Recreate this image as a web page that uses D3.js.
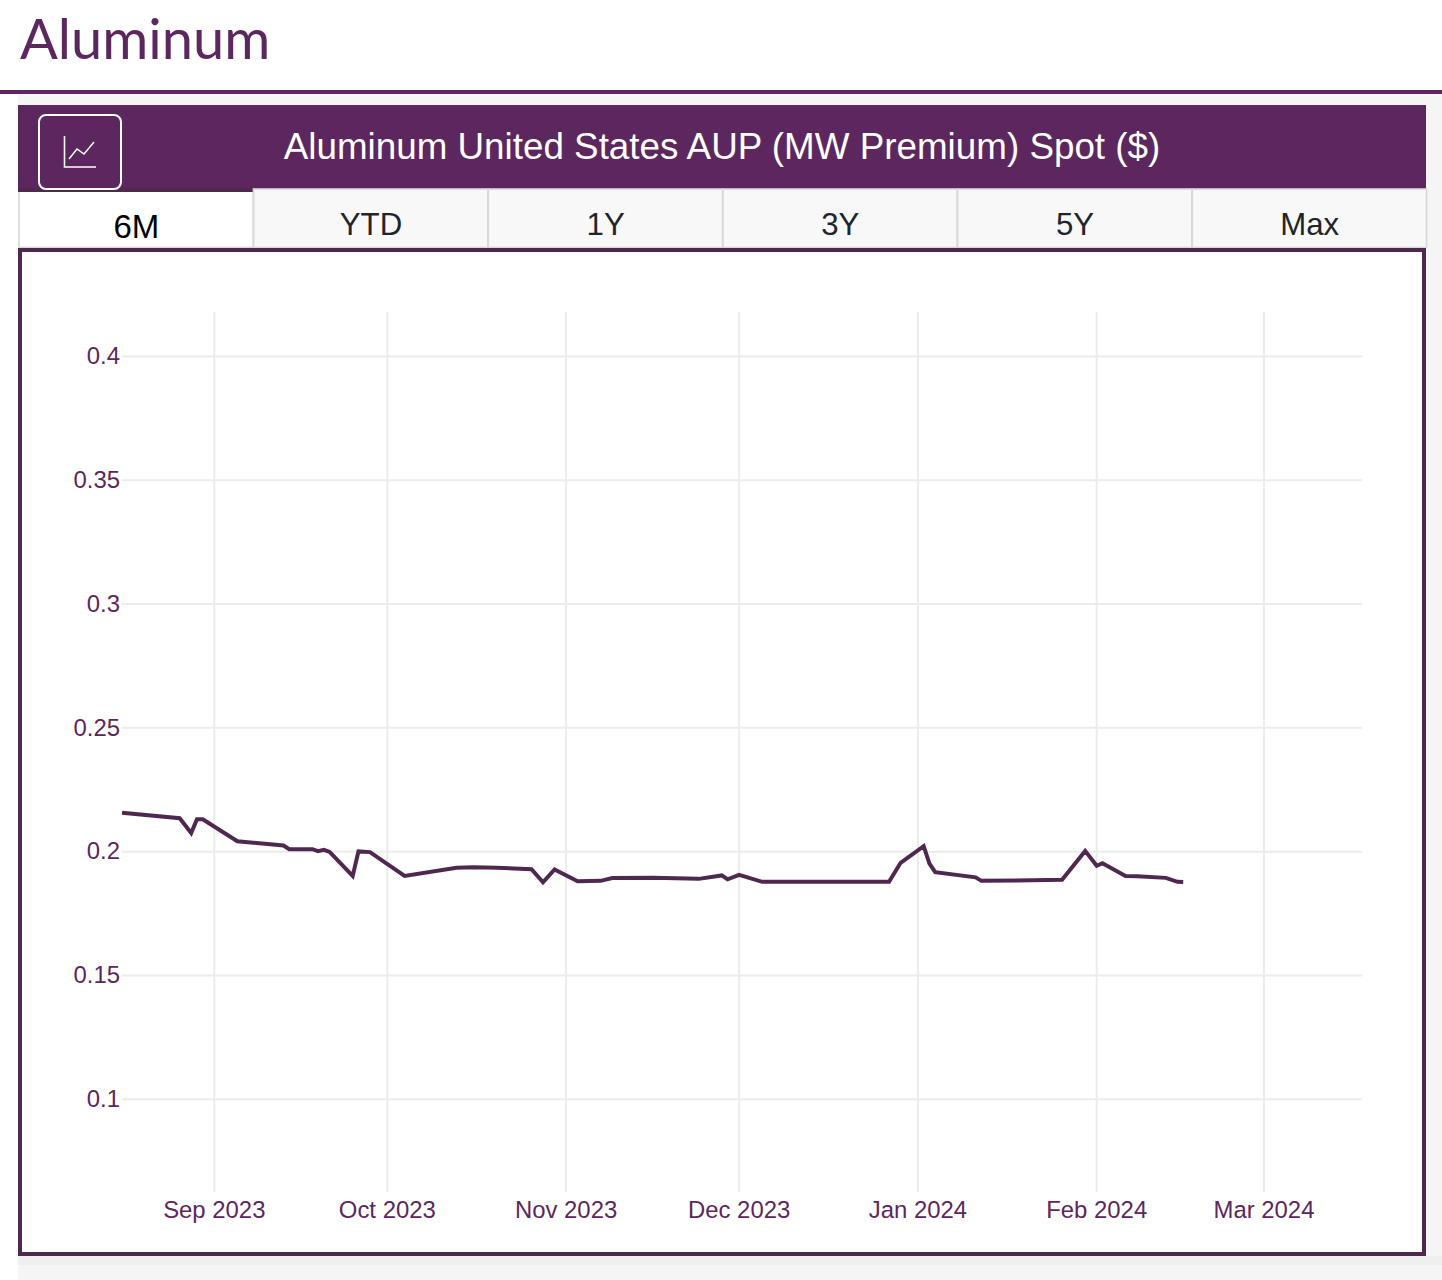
<!DOCTYPE html>
<html>
<head>
<meta charset="utf-8">
<title>Aluminum</title>
<script src="https://cdn.jsdelivr.net/npm/d3@7"></script>
<style>
  html, body { margin: 0; padding: 0; background: #fff; }
  svg { display: block; }
  text { font-family: "Liberation Sans", Arial, sans-serif; }
</style>
</head>
<body>
<div id="chart"></div>
<script>
var pageTitle = "Aluminum";
var chartTitle = "Aluminum United States AUP (MW Premium) Spot ($)";
var tabLabels = ["6M", "YTD", "1Y", "3Y", "5Y", "Max"];

var dates = [
  "2023-08-16", "2023-08-26", "2023-08-28", "2023-08-29", "2023-08-30", "2023-09-05",
  "2023-09-13", "2023-09-14", "2023-09-18", "2023-09-19", "2023-09-20", "2023-09-21",
  "2023-09-25", "2023-09-26", "2023-09-28", "2023-10-04", "2023-10-13", "2023-10-16",
  "2023-10-20", "2023-10-26", "2023-10-28", "2023-10-30", "2023-11-03", "2023-11-07",
  "2023-11-09", "2023-11-16", "2023-11-24", "2023-11-28", "2023-11-29", "2023-12-01",
  "2023-12-05", "2023-12-27", "2023-12-29", "2024-01-02", "2024-01-03", "2024-01-04",
  "2024-01-11", "2024-01-12", "2024-01-26", "2024-01-30", "2024-02-01", "2024-02-02",
  "2024-02-06", "2024-02-08", "2024-02-13", "2024-02-15", "2024-02-16"
];
var prices = [
  0.2155, 0.2133, 0.2073, 0.2129, 0.2129, 0.2040,
  0.2023, 0.2008, 0.2008, 0.2000, 0.2005, 0.1997,
  0.1900, 0.1999, 0.1996, 0.1900, 0.1933, 0.1935,
  0.1933, 0.1927, 0.1874, 0.1926, 0.1878, 0.1880,
  0.1891, 0.1892, 0.1888, 0.1902, 0.1886, 0.1904,
  0.1876, 0.1876, 0.1953, 0.2020, 0.1950, 0.1915,
  0.1894, 0.1880, 0.1884, 0.2001, 0.1941, 0.1951,
  0.1900, 0.1899, 0.1892, 0.1876, 0.1875
];
var xTicks = ["2023-09-01", "2023-10-01", "2023-11-01", "2023-12-01", "2024-01-01", "2024-02-01", "2024-03-01"];
var yTicks = [0.1, 0.15, 0.2, 0.25, 0.3, 0.35, 0.4];
var xDomain = ["2023-08-16", "2024-03-18"];
var yDomain = [0.0623, 0.4178];

var PURPLE = "#5c275e";
var DARK = "#4f2850";

var parseDate = d3.utcParse("%Y-%m-%d");
var points = dates.map(function(d, i) {
  return { date: parseDate(d), price: prices[i] };
});

var svg = d3.select("#chart").append("svg")
  .attr("width", 1442)
  .attr("height", 1280);

// Page furniture
svg.append("rect").attr("x", 18).attr("y", 94).attr("width", 1424).attr("height", 1186).attr("fill", "#f5f5f5");
svg.append("rect").attr("x", 0).attr("y", 90).attr("width", 1442).attr("height", 4).attr("fill", PURPLE);
svg.append("text")
  .attr("x", 20).attr("y", 59)
  .attr("fill", PURPLE)
  .style("font-family", "Lato, sans-serif")
  .style("font-size", "56px")
  .text(pageTitle);

// Header band
svg.append("rect").attr("x", 18).attr("y", 105).attr("width", 1408).attr("height", 84).attr("fill", PURPLE);
svg.append("text")
  .attr("x", 722).attr("y", 159)
  .attr("text-anchor", "middle")
  .attr("fill", "#fff")
  .style("font-size", "36.8px")
  .text(chartTitle);

// Tabs
var tabX = d3.scaleBand().domain(tabLabels).range([18, 1426]);
var tabs = svg.selectAll("g.tab").data(tabLabels).enter().append("g")
  .attr("class", "tab")
  .attr("transform", function(d) { return "translate(" + tabX(d) + ",188)"; });

tabs.append("rect")
  .attr("x", 1).attr("y", 1)
  .attr("width", tabX.bandwidth() - 0.5)
  .attr("height", 58.5)
  .attr("fill", function(d, i) { return i === 0 ? "#fff" : "#f8f8f8"; })
  .attr("stroke", "#d8d8d8")
  .attr("stroke-width", 1.6);

tabs.append("text")
  .attr("x", tabX.bandwidth() / 2 + 1)
  .attr("y", function(d, i) { return i === 0 ? 50 : 47; })
  .attr("text-anchor", "middle")
  .attr("fill", function(d, i) { return i === 0 ? "#000" : "#212529"; })
  .style("font-size", function(d, i) { return i === 0 ? "33px" : "31.2px"; })
  .text(function(d) { return d; });

svg.append("rect")
  .attr("x", 18).attr("y", 188)
  .attr("width", tabX.bandwidth())
  .attr("height", 4)
  .attr("fill", DARK);

// Chart button sits over the band and the tab edge
svg.append("rect")
  .attr("x", 39).attr("y", 115)
  .attr("width", 82).attr("height", 74)
  .attr("rx", 7)
  .attr("fill", PURPLE)
  .attr("stroke", "#fff")
  .attr("stroke-width", 2);
svg.append("path")
  .attr("d", "M64.5 136V167H96")
  .attr("fill", "none").attr("stroke", "#fff").attr("stroke-width", 1.6);
svg.append("path")
  .attr("d", "M69 159L77 149L84 154L94 142")
  .attr("fill", "none").attr("stroke", "#fff").attr("stroke-width", 1.4);

// Chart box
svg.append("rect")
  .attr("x", 20).attr("y", 250)
  .attr("width", 1404).attr("height", 1004)
  .attr("fill", "#fff")
  .attr("stroke", DARK)
  .attr("stroke-width", 4);
svg.append("rect").attr("x", 18).attr("y", 1256).attr("width", 1424).attr("height", 9).attr("fill", "#efefef");

var x = d3.scaleUtc().domain(xDomain.map(parseDate)).range([122, 1362]);
var y = d3.scaleLinear().domain(yDomain).range([1192, 312]);

var xAxis = d3.axisBottom(x)
  .tickValues(xTicks.map(parseDate))
  .tickFormat(d3.utcFormat("%b %Y"))
  .tickSize(-880)
  .tickPadding(9)
  .offset(0);

var yAxis = d3.axisLeft(y)
  .tickValues(yTicks)
  .tickFormat(function(d) { return String(d); })
  .tickSize(-1240)
  .tickPadding(2)
  .offset(0.5);

function styleAxis(g) {
  g.select(".domain").remove();
  g.selectAll("line").attr("stroke", "#ececec").attr("stroke-width", 2);
  g.selectAll("text")
    .attr("fill", PURPLE)
    .style("font-family", "\"Liberation Sans\", Arial, sans-serif")
    .style("font-size", "23.9px");
}

svg.append("g").attr("transform", "translate(0,1192)").call(xAxis).call(styleAxis);
svg.append("g").attr("transform", "translate(122,0)").call(yAxis).call(styleAxis);

var line = d3.line()
  .x(function(d) { return x(d.date); })
  .y(function(d) { return y(d.price); });

svg.append("path")
  .datum(points)
  .attr("d", line)
  .attr("fill", "none")
  .attr("stroke", DARK)
  .attr("stroke-width", 4)
  .attr("stroke-linejoin", "miter");
</script>
</body>
</html>
